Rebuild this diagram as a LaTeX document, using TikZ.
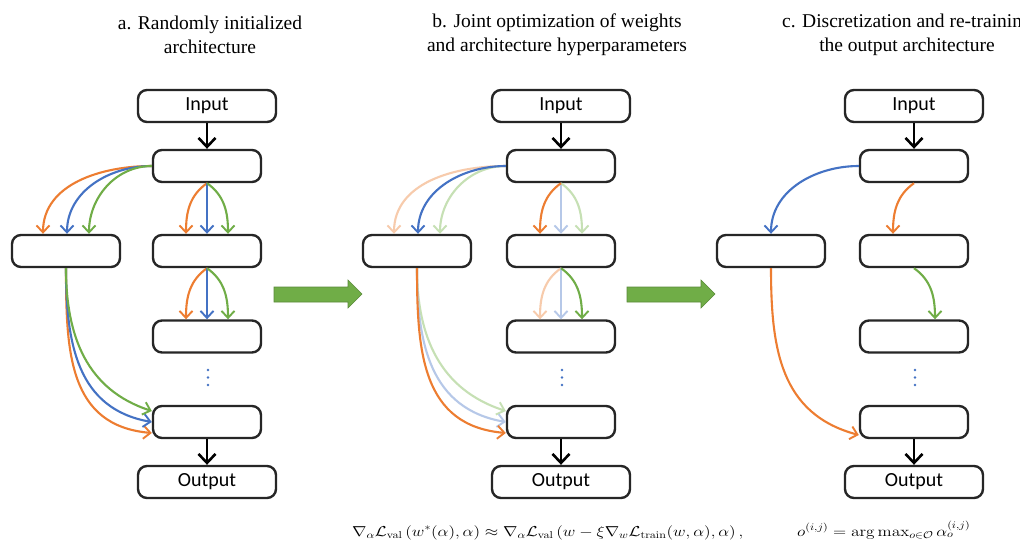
\documentclass[tikz,border=0pt]{standalone}
\usepackage{amsmath}
\usepackage[no-math]{fontspec}
\setmainfont{Liberation Serif}
\newfontfamily\boxfont{Carlito}
\usetikzlibrary{arrows.meta}

\definecolor{cOrange}{RGB}{237,125,49}
\definecolor{cBlue}{RGB}{68,114,196}
\definecolor{cGreen}{RGB}{112,173,71}
\definecolor{cOrangeL}{RGB}{247,203,172}
\definecolor{cBlueL}{RGB}{182,200,232}
\definecolor{cGreenL}{RGB}{198,224,180}
\definecolor{frame}{RGB}{38,38,38}

\tikzset{
  cell/.style={draw=frame, line width=2.4pt, rounded corners=9pt,
    minimum width=108pt, minimum height=32pt, inner sep=0pt, fill=white},
  iobox/.style={cell, minimum width=138pt, font=\boxfont\fontsize{20}{20}\selectfont},
  flow/.style={line width=2.8pt, black, -{Straight Barb[length=9pt,width=17pt,line width=2.6pt]}},
  edge/.style={line width=2.1pt, -{Straight Barb[length=7pt,width=13pt,line width=1.9pt]}},
  title/.style={align=center, font=\fontsize{19.5}{24}\selectfont},
  formula/.style={anchor=base west, inner sep=0pt, xscale=1.2, transform shape,
    font=\fontsize{14}{16}\selectfont},
  blockarrow/.style={fill=cGreen, draw=cGreen!80!black, line width=0.6pt},
}

% nodes of one architecture: #1 prefix, #2 x of the main column, #3 x of the side cell
\newcommand\archnodes[3]{%
  \node[iobox] (#1in)  at (#2,-106) {Input};
  \node[cell]  (#1n1)  at (#2,-166) {};
  \node[cell]  (#1n2)  at (#2,-251) {};
  \node[cell]  (#1n3)  at (#2,-336.5) {};
  \node[cell]  (#1n4)  at (#2,-422) {};
  \node[iobox] (#1out) at (#2,-482) {Output};
  \node[cell]  (#1s)   at (#3,-251) {};
  \draw[flow] (#1in) -- (#1n1);
  \draw[flow] (#1n4) -- (#1out);
  \foreach \yy in {-370,-377.5,-385}
    \fill[cBlue] ([xshift=1pt]#2,\yy) circle (1.4pt);
}

\begin{document}
\begin{tikzpicture}[x=1pt,y=1pt]
\useasboundingbox (0,0) rectangle (1020,-544);
\fill[white] (0,0) rectangle (1020,-544);

% titles
\node[title] (ta) at (210,-35) {a. Randomly initialized\\architecture};
\node[title] (tb) at (557,-35) {b. Joint optimization of weights\\and architecture hyperparameters};
\node[title] (tc) at (907,-35) {c. Discretization and re-training\\the output architecture};

% ---------- a: all candidate operations ----------
\archnodes{a}{207}{66}
\draw[edge,cOrange] (an1.west) to[out=180,in=90] ([xshift=-23pt]as.north);
\draw[edge,cBlue]   (an1.west) to[out=180,in=90] ([xshift=1pt]as.north);
\draw[edge,cGreen]  (an1.west) to[out=180,in=90] ([xshift=23pt]as.north);
\foreach \p/\q in {an1/an2, an2/an3}{
  \draw[edge,cOrange] (\p.south) to[out=215,in=90] ([xshift=-21pt]\q.north);
  \draw[edge,cBlue]   (\p.south) -- (\q.north);
  \draw[edge,cGreen]  (\p.south) to[out=-35,in=90] ([xshift=21pt]\q.north);
}
\draw[edge,cOrange] (as.south) to[out=-90,in=175,looseness=1.15] ([yshift=-11pt]an4.west);
\draw[edge,cBlue]   (as.south) to[out=-90,in=170,looseness=1.1] ([yshift=0pt]an4.west);
\draw[edge,cGreen]  (as.south) to[out=-90,in=162,looseness=1.05] ([yshift=11pt]an4.west);

% ---------- b: weighted mixture ----------
\archnodes{b}{561}{417}
\draw[edge,cOrangeL] (bn1.west) to[out=180,in=90] ([xshift=-23pt]bs.north);
\draw[edge,cGreenL]  (bn1.west) to[out=180,in=90] ([xshift=23pt]bs.north);
\draw[edge,cBlue]    (bn1.west) to[out=180,in=90] ([xshift=1pt]bs.north);

\draw[edge,cBlueL]   (bn1.south) -- (bn2.north);
\draw[edge,cGreenL]  (bn1.south) to[out=-35,in=90] ([xshift=21pt]bn2.north);
\draw[edge,cOrange]  (bn1.south) to[out=215,in=90] ([xshift=-21pt]bn2.north);

\draw[edge,cOrangeL] (bn2.south) to[out=215,in=90] ([xshift=-21pt]bn3.north);
\draw[edge,cBlueL]   (bn2.south) -- (bn3.north);
\draw[edge,cGreen]   (bn2.south) to[out=-35,in=90] ([xshift=21pt]bn3.north);

\draw[edge,cGreenL]  (bs.south) to[out=-90,in=162,looseness=1.05] ([yshift=11pt]bn4.west);
\draw[edge,cBlueL]   (bs.south) to[out=-90,in=170,looseness=1.1] ([yshift=0pt]bn4.west);
\draw[edge,cOrange]  (bs.south) to[out=-90,in=175,looseness=1.15] ([yshift=-11pt]bn4.west);

% ---------- c: discretized architecture ----------
\archnodes{c}{914}{771}
\draw[edge,cBlue]   (cn1.west) to[out=180,in=90] (cs.north);
\draw[edge,cOrange] (cn1.south) to[out=215,in=90] ([xshift=-21pt]cn2.north);
\draw[edge,cGreen]  (cn2.south) to[out=-35,in=90] ([xshift=21pt]cn3.north);
\draw[edge,cOrange] (cs.south) to[out=-90,in=165,looseness=1.1] ([yshift=-13pt]cn4.west);

% block arrows between the stages
\foreach \dx in {0,353}
  \draw[blockarrow,xshift=\dx] (274,-287) -- (348,-287) -- (348,-280) -- (362,-294)
     -- (348,-308) -- (348,-302) -- (274,-302) -- cycle;

% update rules
\node[formula] (fa) at (352,-536)
  {$\nabla_\alpha \mathcal{L}_{\mathrm{val}}\left(w^*(\alpha),\alpha\right) \approx \nabla_\alpha \mathcal{L}_{\mathrm{val}}\left(w-\xi\nabla_w\mathcal{L}_{\mathrm{train}}(w,\alpha),\alpha\right),$};
\node[formula] (fb) at (797,-536)
  {$o^{(i,j)}=\arg\max\nolimits_{o\in\mathcal{O}}\alpha_o^{(i,j)}$};
\end{tikzpicture}
\end{document}
